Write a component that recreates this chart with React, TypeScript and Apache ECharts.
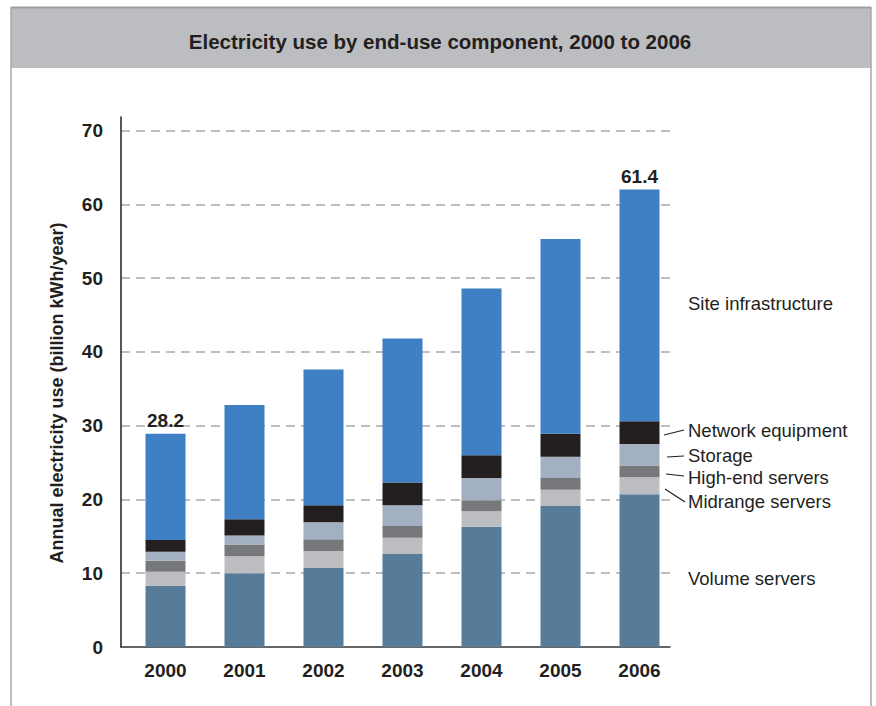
import React, { useEffect, useRef } from "react";
import * as echarts from "echarts";

const years = ["2000", "2001", "2002", "2003", "2004", "2005", "2006"];
const volumeServers = [8.3, 10.0, 10.7, 12.6, 16.3, 19.1, 20.7];
const midrangeServers = [1.9, 2.3, 2.3, 2.2, 2.1, 2.2, 2.3];
const highEndServers = [1.5, 1.6, 1.6, 1.6, 1.5, 1.6, 1.6];
const storage = [1.2, 1.2, 2.3, 2.8, 3.0, 2.9, 2.9];
const networkEquipment = [1.6, 2.2, 2.3, 3.1, 3.1, 3.1, 3.1];
const siteInfrastructure = [14.4, 15.5, 18.4, 19.5, 22.6, 26.4, 31.4];
const totalLabels = ["28.2", "", "", "", "", "", "61.4"];

const FONT = "'Liberation Sans', Arial, sans-serif";
const INK = "#231f20";

const seriesDefs = [
  { name: "Volume servers", data: volumeServers, color: "#577c99" },
  { name: "Midrange servers", data: midrangeServers, color: "#bcbdc0" },
  { name: "High-end servers", data: highEndServers, color: "#77787b" },
  { name: "Storage", data: storage, color: "#a3b0c1" },
  { name: "Network equipment", data: networkEquipment, color: "#231f20" },
  { name: "Site infrastructure", data: siteInfrastructure, color: "#3f7fc3" },
];

const rightLabels = [
  { text: "Site infrastructure", y: 303 },
  { text: "Network equipment", y: 430 },
  { text: "Storage", y: 455 },
  { text: "High-end servers", y: 477 },
  { text: "Midrange servers", y: 501 },
  { text: "Volume servers", y: 578 },
];

const leaders = [
  [664, 435, 684, 430],
  [667, 457, 684, 456],
  [666, 474, 684, 476],
  [665, 489, 685, 502],
];

const Y_MAX = 71.83;

function buildOption() {
  const series = seriesDefs.map((s, idx) => ({
    type: "bar",
    name: s.name,
    stack: "total",
    barWidth: 40,
    xAxisIndex: 0,
    yAxisIndex: 0,
    data: s.data,
    itemStyle: { color: s.color },
    label:
      idx === seriesDefs.length - 1
        ? {
            show: true,
            position: "top",
            distance: 4,
            formatter: (p: any) => totalLabels[p.dataIndex],
            color: INK,
            fontFamily: FONT,
            fontWeight: "bold",
            fontSize: 19,
          }
        : { show: false },
    emphasis: { disabled: true },
  }));

  const graphic: any[] = [
    { type: "rect", shape: { x: 11, y: 7, width: 860, height: 61 }, style: { fill: "#bcbdc0" }, silent: true },
    { type: "line", shape: { x1: 11, y1: 7.5, x2: 871, y2: 7.5 }, style: { stroke: "#9d9fa2", lineWidth: 2 }, silent: true },
    { type: "line", shape: { x1: 11, y1: 7, x2: 11, y2: 706 }, style: { stroke: "#a7a9ac", lineWidth: 1.5 }, silent: true },
    { type: "line", shape: { x1: 871, y1: 7, x2: 871, y2: 706 }, style: { stroke: "#a7a9ac", lineWidth: 1.5 }, silent: true },
    {
      type: "text",
      x: 440,
      y: 41,
      style: {
        text: "Electricity use by end-use component, 2000 to 2006",
        fill: INK,
        font: `bold 20.5px ${FONT}`,
        align: "center",
        verticalAlign: "middle",
      },
      silent: true,
    },
    {
      type: "text",
      x: 57,
      y: 393,
      rotation: Math.PI / 2,
      style: {
        text: "Annual electricity use (billion kWh/year)",
        fill: INK,
        font: `bold 18px ${FONT}`,
        align: "center",
        verticalAlign: "middle",
      },
      silent: true,
    },
  ];
  rightLabels.forEach((l) =>
    graphic.push({
      type: "text",
      x: 688,
      y: l.y,
      style: { text: l.text, fill: INK, font: `18.5px ${FONT}`, align: "left", verticalAlign: "middle" },
      silent: true,
    })
  );
  leaders.forEach(([x1, y1, x2, y2]) =>
    graphic.push({
      type: "line",
      shape: { x1, y1, x2, y2 },
      style: { stroke: INK, lineWidth: 1.2 },
      silent: true,
    })
  );

  return {
    animation: false,
    backgroundColor: "#ffffff",
    grid: [
      { left: 126, top: 117, width: 553, height: 530, containLabel: false },
      { left: 121, top: 117, width: 549, height: 530, containLabel: false },
    ],
    xAxis: [
      {
        type: "category",
        gridIndex: 0,
        data: years,
        axisLine: { show: false },
        axisTick: { show: false },
        splitLine: { show: false },
        axisLabel: {
          color: INK,
          fontFamily: FONT,
          fontWeight: "bold",
          fontSize: 19,
          margin: 14,
        },
      },
      {
        type: "value",
        gridIndex: 1,
        min: 0,
        max: 1,
        axisLine: { show: true, onZero: false, lineStyle: { color: "#333333", width: 1.5 } },
        axisTick: { show: false },
        axisLabel: { show: false },
        splitLine: { show: false },
      },
    ],
    yAxis: [
      {
        type: "value",
        gridIndex: 0,
        min: 0,
        max: Y_MAX,
        interval: 10,
        axisLine: { show: false },
        axisTick: { show: false },
        axisLabel: { show: false },
        splitLine: { show: false },
      },
      {
        type: "value",
        gridIndex: 1,
        min: 0,
        max: Y_MAX,
        interval: 10,
        axisLine: { show: true, onZero: false, lineStyle: { color: "#231f20", width: 1.5 } },
        axisTick: { show: false },
        axisLabel: {
          showMaxLabel: false,
          color: INK,
          fontFamily: FONT,
          fontWeight: "bold",
          fontSize: 19,
          margin: 18,
        },
        splitLine: {
          show: true,
          showMinLine: false,
          showMaxLine: false,
          lineStyle: { color: "#a7a9ac", width: 1.5, type: [9, 6] },
        },
      },
    ],
    series,
    graphic,
  };
}

export default function App() {
  const ref = useRef<HTMLDivElement>(null);
  useEffect(() => {
    document.body.style.margin = "0";
    if (!ref.current) return;
    const chart = echarts.init(ref.current, null, { renderer: "svg" });
    chart.setOption(buildOption() as any);
    return () => chart.dispose();
  }, []);
  return <div ref={ref} style={{ width: 876, height: 706 }} />;
}
